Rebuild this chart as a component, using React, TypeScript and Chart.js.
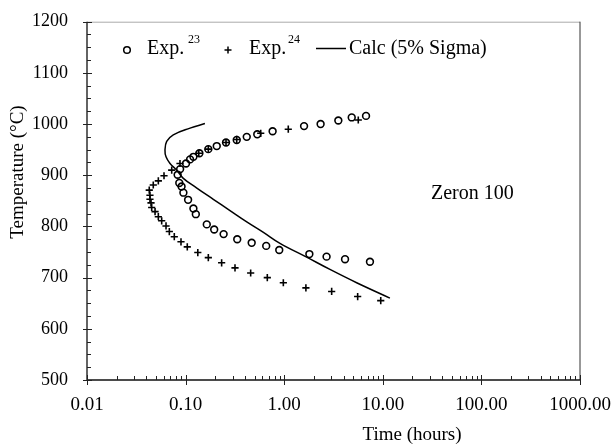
import React, { useEffect, useRef } from "react";
import { Chart, registerables } from "chart.js";

Chart.register(...registerables);

const FONT = "'Liberation Serif', 'Times New Roman', serif";

// Axis ticks
const xTickValues = [0.01, 0.1, 1, 10, 100, 1000];
const yMin = 500;
const yMax = 1200;
const yStep = 100;

// Exp. 23 (circles)
const exp23Time = [
  6.76, 4.84, 3.54, 2.34, 1.59, 0.763, 0.533, 0.417, 0.33, 0.257, 0.207, 0.17, 0.138, 0.12, 0.111, 0.101, 0.088,
  0.083, 0.0863, 0.091, 0.095, 0.106, 0.12, 0.127, 0.164, 0.195, 0.243, 0.334, 0.468, 0.657, 0.891, 1.8, 2.69, 4.14, 7.41,
];
const exp23Temp = [
  1016, 1013, 1007, 1000, 996, 986, 980, 975, 969, 964, 957, 951, 943, 936, 931, 923, 912,
  901, 885, 878, 866, 852, 835, 824, 804, 794, 785, 775, 768, 762, 754, 746, 741, 736, 731,
];

// Exp. 24 (crosses)
const exp24Time = [
  5.64, 1.1, 0.578, 0.33, 0.257, 0.17, 0.136, 0.0877, 0.0723, 0.0604, 0.0529, 0.047, 0.0428, 0.0435, 0.0435, 0.0446,
  0.0453, 0.049, 0.0529, 0.0572, 0.0633, 0.0684, 0.0768, 0.0898, 0.104, 0.133, 0.17, 0.232, 0.317, 0.457, 0.674,
  0.98, 1.66, 3.03, 5.56, 9.53,
];
const exp24Temp = [
  1008, 990, 982, 970, 964, 951, 943, 923, 910, 899, 889, 881, 871, 861, 853, 846,
  837, 829, 819, 811, 801, 790, 780, 770, 760, 749, 739, 729, 719, 709, 700,
  690, 680, 673, 663, 655,
];

// Calc (5% Sigma) line
const calcTime = [
  0.157, 0.111, 0.075, 0.0643, 0.0618, 0.0633, 0.0695, 0.0813, 0.0948, 0.13, 0.191, 0.282, 0.417, 0.61, 0.906, 1.69,
  2.91, 5.43, 11.8,
];
const calcTemp = [
  1001, 992, 979, 966, 949, 936, 923, 910, 894, 875, 853, 831, 809, 789, 767, 740, 716, 690, 660,
];

const seriesNames = ["Exp.", "Exp.", "Calc (5% Sigma)"];
const seriesRefs = ["23", "24"];
const xTitle = "Time (hours)";
const yTitle = "Temperature (°C)";
const annotation = "Zeron 100";

const toPoints = (xs: number[], ys: number[]) => xs.map((x, i) => ({ x, y: ys[i] }));

const decorPlugin = {
  id: "decor",
  afterDraw(chart: any) {
    const { ctx, chartArea } = chart;
    const xs = chart.scales.x;
    const ys = chart.scales.y;
    const { left, right, top, bottom } = chartArea;
    ctx.save();
    // frame
    ctx.lineCap = "butt";
    ctx.strokeStyle = "#aaa";
    ctx.lineWidth = 1;
    ctx.beginPath();
    ctx.moveTo(left, top + 0.5);
    ctx.lineTo(right, top + 0.5);
    ctx.stroke();
    ctx.strokeStyle = "#333";
    ctx.beginPath();
    ctx.moveTo(right, top);
    ctx.lineTo(right, bottom);
    ctx.stroke();
    ctx.strokeStyle = "#111";
    ctx.lineWidth = 1.3;
    ctx.beginPath();
    ctx.moveTo(left, top);
    ctx.lineTo(left, bottom);
    ctx.moveTo(left, bottom);
    ctx.lineTo(right, bottom);
    ctx.stroke();

    // y ticks
    ctx.lineWidth = 1;
    ctx.strokeStyle = "#222";
    ctx.beginPath();
    for (let v = yMin; v <= yMax; v += 25) {
      const y = Math.round(ys.getPixelForValue(v)) + 0.5;
      if (v % 100 === 0) {
        ctx.moveTo(left - 4, y);
        ctx.lineTo(left + 5, y);
      } else {
        ctx.moveTo(left, y);
        ctx.lineTo(left + 4, y);
      }
    }
    // x ticks
    for (let d = -2; d <= 3; d++) {
      for (let m = 1; m <= 9; m++) {
        const v = m * Math.pow(10, d);
        if (v > 1000.0001) break;
        const x = Math.round(xs.getPixelForValue(v)) + 0.5;
        if (m === 1) {
          ctx.moveTo(x, bottom - 5);
          ctx.lineTo(x, bottom + 5);
        } else {
          ctx.moveTo(x, bottom - 4);
          ctx.lineTo(x, bottom);
        }
      }
    }
    ctx.stroke();

    ctx.fillStyle = "#000";
    // axis titles
    ctx.font = `19px ${FONT}`;
    ctx.textAlign = "center";
    ctx.textBaseline = "middle";
    ctx.fillText(xTitle, 412, 435);
    ctx.save();
    ctx.translate(18, 172);
    ctx.rotate(-Math.PI / 2);
    ctx.fillText(yTitle, 0, 0);
    ctx.restore();

    // annotation
    ctx.textAlign = "left";
    ctx.textBaseline = "alphabetic";
    ctx.font = `20px ${FONT}`;
    ctx.fillText(annotation, 431, 199);

    // legend
    const base = 54;
    ctx.lineWidth = 1.5;
    ctx.strokeStyle = "#000";
    ctx.beginPath();
    ctx.arc(127, 50, 3.3, 0, Math.PI * 2);
    ctx.stroke();
    ctx.font = `20px ${FONT}`;
    ctx.fillText(seriesNames[0], 147, base);
    ctx.font = `12px ${FONT}`;
    ctx.fillText(seriesRefs[0], 188, 43);

    ctx.beginPath();
    ctx.moveTo(224.5, 50);
    ctx.lineTo(231.5, 50);
    ctx.moveTo(228, 46.5);
    ctx.lineTo(228, 53.5);
    ctx.stroke();
    ctx.font = `20px ${FONT}`;
    ctx.fillText(seriesNames[1], 249, base);
    ctx.font = `12px ${FONT}`;
    ctx.fillText(seriesRefs[1], 288, 43);

    ctx.beginPath();
    ctx.moveTo(316, 48.5);
    ctx.lineTo(346, 48.5);
    ctx.stroke();
    ctx.font = `20px ${FONT}`;
    ctx.fillText(seriesNames[2], 349, base);

    ctx.restore();
  },
};

export default function App() {
  const canvasRef = useRef<HTMLCanvasElement | null>(null);

  useEffect(() => {
    if (!canvasRef.current) return;
    const chart = new Chart(canvasRef.current, {
      type: "scatter",
      data: {
        datasets: [
          {
            label: "Exp. 23",
            data: toPoints(exp23Time, exp23Temp),
            pointStyle: "circle",
            pointRadius: 3.4,
            pointBorderWidth: 1.6,
            pointBorderColor: "#000",
            pointBackgroundColor: "rgba(0,0,0,0)",
            showLine: false,
          },
          {
            label: "Exp. 24",
            data: toPoints(exp24Time, exp24Temp),
            pointStyle: "cross",
            pointRadius: 3.6,
            pointBorderWidth: 1.6,
            pointBorderColor: "#000",
            showLine: false,
          },
          {
            label: "Calc (5% Sigma)",
            data: toPoints(calcTime, calcTemp),
            showLine: true,
            pointRadius: 0,
            borderColor: "#000",
            borderWidth: 1.5,
            tension: 0.4,
            fill: false,
          },
        ],
      },
      options: {
        responsive: false,
        animation: false,
        events: [],
        layout: { padding: { left: 0, top: 21.7, right: 35, bottom: 0 } },
        plugins: { legend: { display: false }, tooltip: { enabled: false } },
        scales: {
          x: {
            type: "logarithmic",
            min: 0.01,
            max: 1000,
            grid: { display: false, drawTicks: false },
            border: { display: false },
            afterBuildTicks: (s: any) => {
              s.ticks = xTickValues.map((v) => ({ value: v }));
            },
            afterFit: (s: any) => {
              s.height = 64;
              s.paddingLeft = 0;
              s.paddingRight = 0;
            },
            ticks: {
              autoSkip: false,
              maxRotation: 0,
              minRotation: 0,
              padding: 14,
              color: "#000",
              font: { family: FONT, size: 19 },
              callback: (v: any) => Number(v).toFixed(2),
            },
          },
          y: {
            type: "linear",
            min: yMin,
            max: yMax,
            grid: { display: false, drawTicks: false },
            border: { display: false },
            afterFit: (s: any) => {
              s.width = 87;
              s.paddingTop = 0;
              s.paddingBottom = 0;
            },
            ticks: {
              stepSize: yStep,
              padding: 19,
              color: "#000",
              font: { family: FONT, size: 18 },
              callback: (v: any) => String(v),
            },
          },
        },
      },
      plugins: [decorPlugin],
    } as any);
    return () => chart.destroy();
  }, []);

  return (
    <div style={{ position: "fixed", left: 0, top: 0, width: 615, height: 444, background: "#fff" }}>
      <canvas ref={canvasRef} width={615} height={444} style={{ display: "block" }} />
    </div>
  );
}
